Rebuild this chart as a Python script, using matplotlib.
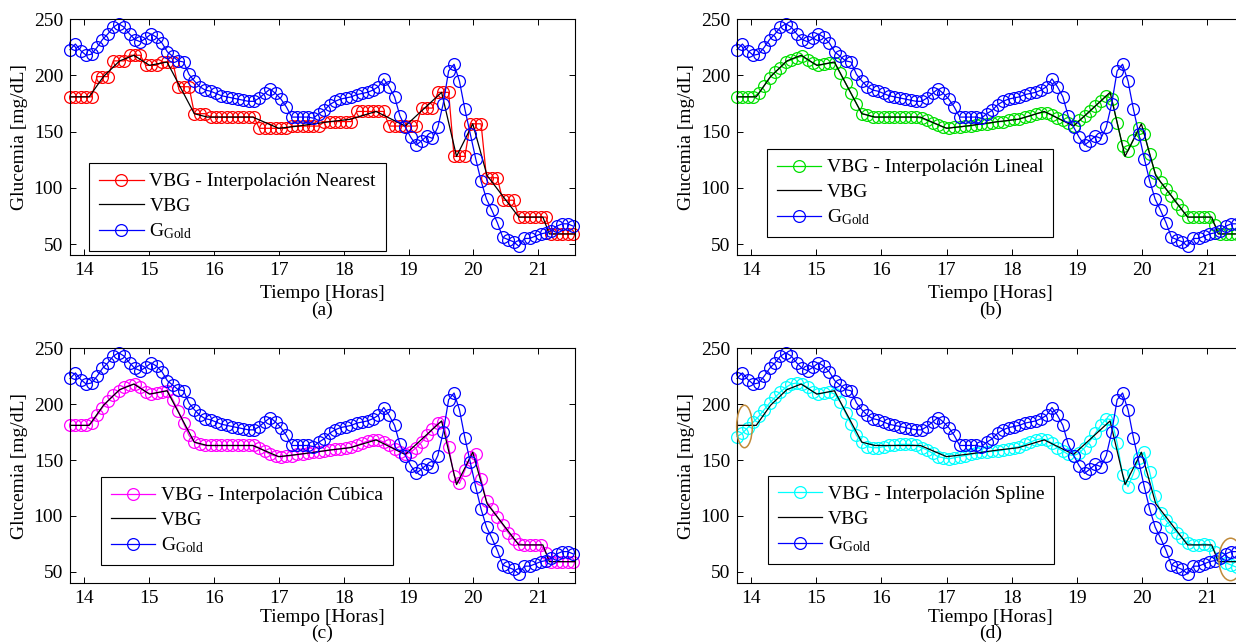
import numpy as np
import matplotlib
matplotlib.use("Agg")
import matplotlib.pyplot as plt
from matplotlib.patches import Ellipse

plt.rcParams['font.family'] = ['Liberation Serif', 'DejaVu Serif']
plt.rcParams['mathtext.fontset'] = 'custom'
plt.rcParams['mathtext.rm'] = 'Liberation Serif'
plt.rcParams['mathtext.it'] = 'Liberation Serif:italic'

# ---------------- data ----------------
t_start = 13.785          # hours (first 5-min sample)
n_samples = 94
time = t_start + np.arange(n_samples) * 5.0 / 60.0

gold = [223, 228, 222, 218, 219, 225, 232, 237, 243, 246,
        243, 237, 232, 230, 233, 237, 234, 229, 221, 217,
        213, 212, 201, 195, 190, 187, 186, 184, 182, 181,
        180, 179, 178, 177, 177, 180, 184, 188, 184, 179,
        172, 163, 163, 163, 163, 162, 166, 169, 174, 177,
        179, 180, 181, 183, 184, 185, 187, 190, 197, 190,
        181, 164, 154, 145, 138, 142, 146, 144, 154, 175,
        204, 210, 195, 170, 148, 126, 106, 90, 80, 69,
        56, 54, 52, 48, 55, 55, 57, 59, 60, 62,
        66, 68, 68, 66]

vbg_t = [13.785, 14.08, 14.30, 14.55, 14.77, 15.01, 15.28, 15.70, 15.90, 16.60,
         17.00, 17.30, 17.80, 18.10, 18.50, 18.95, 19.51, 19.74, 19.99, 20.21,
         20.70, 21.07, 21.17, 21.565]
vbg_v = [181, 181, 199, 213, 218, 209, 212, 166, 163, 163,
         153, 155, 159, 161, 168, 155, 185, 128, 157, 111,
         74, 74, 59, 59]

nearest = ([181] * 5 + [199] * 3 + [213] * 3 + [218] * 3 + [209] * 3 + [212] * 3 +
           [190] * 3 + [166] * 3 + [163] * 9 + [153] * 6 + [155] * 6 + [159] * 6 +
           [168] * 6 + [155] * 6 + [171] * 3 + [185] * 3 + [128] * 3 + [157] * 3 +
           [109] * 3 + [89] * 3 + [74] * 6 + [59] * 5)

lineal = [181, 181, 181, 181, 184, 191, 198, 203, 207, 212,
          214, 216, 217, 214, 211, 209, 210, 211, 211, 202,
          193, 184, 175, 166, 165, 163, 163, 163, 163, 163,
          163, 163, 163, 163, 162, 160, 158, 156, 154, 153,
          154, 154, 155, 155, 156, 157, 157, 158, 159, 159,
          160, 161, 161, 163, 164, 166, 167, 167, 165, 162,
          160, 158, 155, 160, 164, 168, 173, 177, 182, 179,
          158, 137, 133, 143, 153, 148, 130, 113, 105, 99,
          93, 86, 80, 74, 74, 74, 74, 74, 67, 59,
          59, 59, 59, 59]

cubica = [181, 181, 181, 181, 183, 190, 197, 203, 208, 212,
          215, 217, 218, 215, 211, 209, 210, 211, 212, 204,
          194, 183, 172, 166, 164, 163, 163, 163, 163, 163,
          163, 163, 163, 163, 163, 161, 158, 155, 153.5, 153,
          153.5, 154, 155, 155.5, 156, 157, 157.5, 158, 159, 159.5,
          160, 161, 161.5, 163, 165, 167, 168, 168, 166, 163,
          160, 157, 155, 157, 161, 166, 172, 178, 183, 184,
          162, 136, 129, 141, 153, 155, 133, 113, 106, 99,
          92, 85, 79, 75, 74, 74, 74, 74, 67, 59,
          59, 59, 59, 59]

spline = [171, 174, 179, 184, 189, 195, 201, 206, 211, 215,
          218, 219, 218, 215, 211, 209, 210, 211, 209, 202,
          192, 182, 172, 166, 162, 161, 161, 162, 163, 163,
          164, 164, 164, 163, 161, 159, 156, 153, 152, 151,
          152, 153, 154, 155, 156, 157, 157, 158, 158, 159,
          160, 161, 162, 164, 166, 168, 169, 168, 165, 161,
          158, 155, 154, 156, 161, 167, 174, 181, 187, 186,
          165, 137, 126, 138, 152, 157, 139, 118, 103, 96,
          90, 85, 80, 76, 74, 74, 75, 74, 68, 62,
          58, 56, 54, 54]

# highlighted regions in panel (d): (center t, center value, width h, height mg/dL)
ellipse_cx = [13.90, 21.36]
ellipse_cy = [180, 61]
ellipse_w = [0.24, 0.36]
ellipse_h = [38, 38]

xticks = [14, 15, 16, 17, 18, 19, 20, 21]
yticks = [50, 100, 150, 200, 250]
xlim = (13.785, 21.565)
ylim = (40, 250)

panels = [
    ("(a)", nearest, "#FF0000", "VBG - Interpolación Nearest"),
    ("(b)", lineal, "#00E000", "VBG - Interpolación Lineal"),
    ("(c)", cubica, "#FF00FF", "VBG - Interpolación Cúbica"),
    ("(d)", spline, "#00FFFF", "VBG - Interpolación Spline"),
]

W, H = 1236, 643
fig = plt.figure(figsize=(W / 100, H / 100), dpi=100)

# axes rectangles in pixels: left, top, right, bottom
rects_px = [(70, 19.3, 575, 255.3), (737, 19.3, 1244, 255.3),
            (70, 348.3, 575, 582.9), (737, 348.3, 1244, 582.9)]
legend_pos = [(0.038, 0.391), (0.059, 0.450), (0.061, 0.451), (0.061, 0.456)]
tag_offset = [-39.5, -39.5, -36.4, -36.4]
xlabel_pad = [4, 4, 1.5, 1.5]

FS = 14
for i, (tag, series, col, lab) in enumerate(panels):
    l, t, r, b = rects_px[i]
    ax = fig.add_axes([l / W, 1 - b / H, (r - l) / W, (b - t) / H])
    ax.plot(time, series, color=col, marker='o', mfc='none', ms=8.5, mew=0.9,
            lw=0.9, label=lab, clip_on=False)
    ax.plot(vbg_t, vbg_v, color='k', lw=0.9, label='VBG')
    ax.plot(time, gold, color='#0000FF', marker='o', mfc='none', ms=8.5, mew=0.9,
            lw=0.9, label='G$_{\\mathrm{Gold}}$', clip_on=False)
    if tag == "(d)":
        for cx, cy, ew, eh in zip(ellipse_cx, ellipse_cy, ellipse_w, ellipse_h):
            ax.add_patch(Ellipse((cx, cy), ew, eh, fill=False, ec='#C08A3A', lw=1.1,
                                 clip_on=False, zorder=5))
    ax.set_xlim(*xlim)
    ax.set_ylim(*ylim)
    ax.set_xticks(xticks)
    ax.set_yticks(yticks)
    ax.tick_params(direction='in', top=True, right=True, length=4, width=0.7,
                   labelsize=FS, pad=5)
    for sp in ax.spines.values():
        sp.set_linewidth(0.8)
    ax.set_ylabel('Glucemia [mg/dL]', fontsize=FS, labelpad=4)
    ax.set_xlabel('Tiempo [Horas]', fontsize=FS, labelpad=xlabel_pad[i])
    ax.annotate(tag, xy=(0.5, 0), xycoords='axes fraction', xytext=(0, tag_offset[i]),
                textcoords='offset points', ha='center', va='center', fontsize=FS)
    leg = ax.legend(loc='upper left', bbox_to_anchor=legend_pos[i], borderaxespad=0,
                    fontsize=FS, fancybox=False, framealpha=1, edgecolor='k',
                    handlelength=2.3, handletextpad=0.3, labelspacing=0.35,
                    borderpad=0.5)
    leg.get_frame().set_linewidth(0.8)

fig.savefig('out.png', dpi=100)
